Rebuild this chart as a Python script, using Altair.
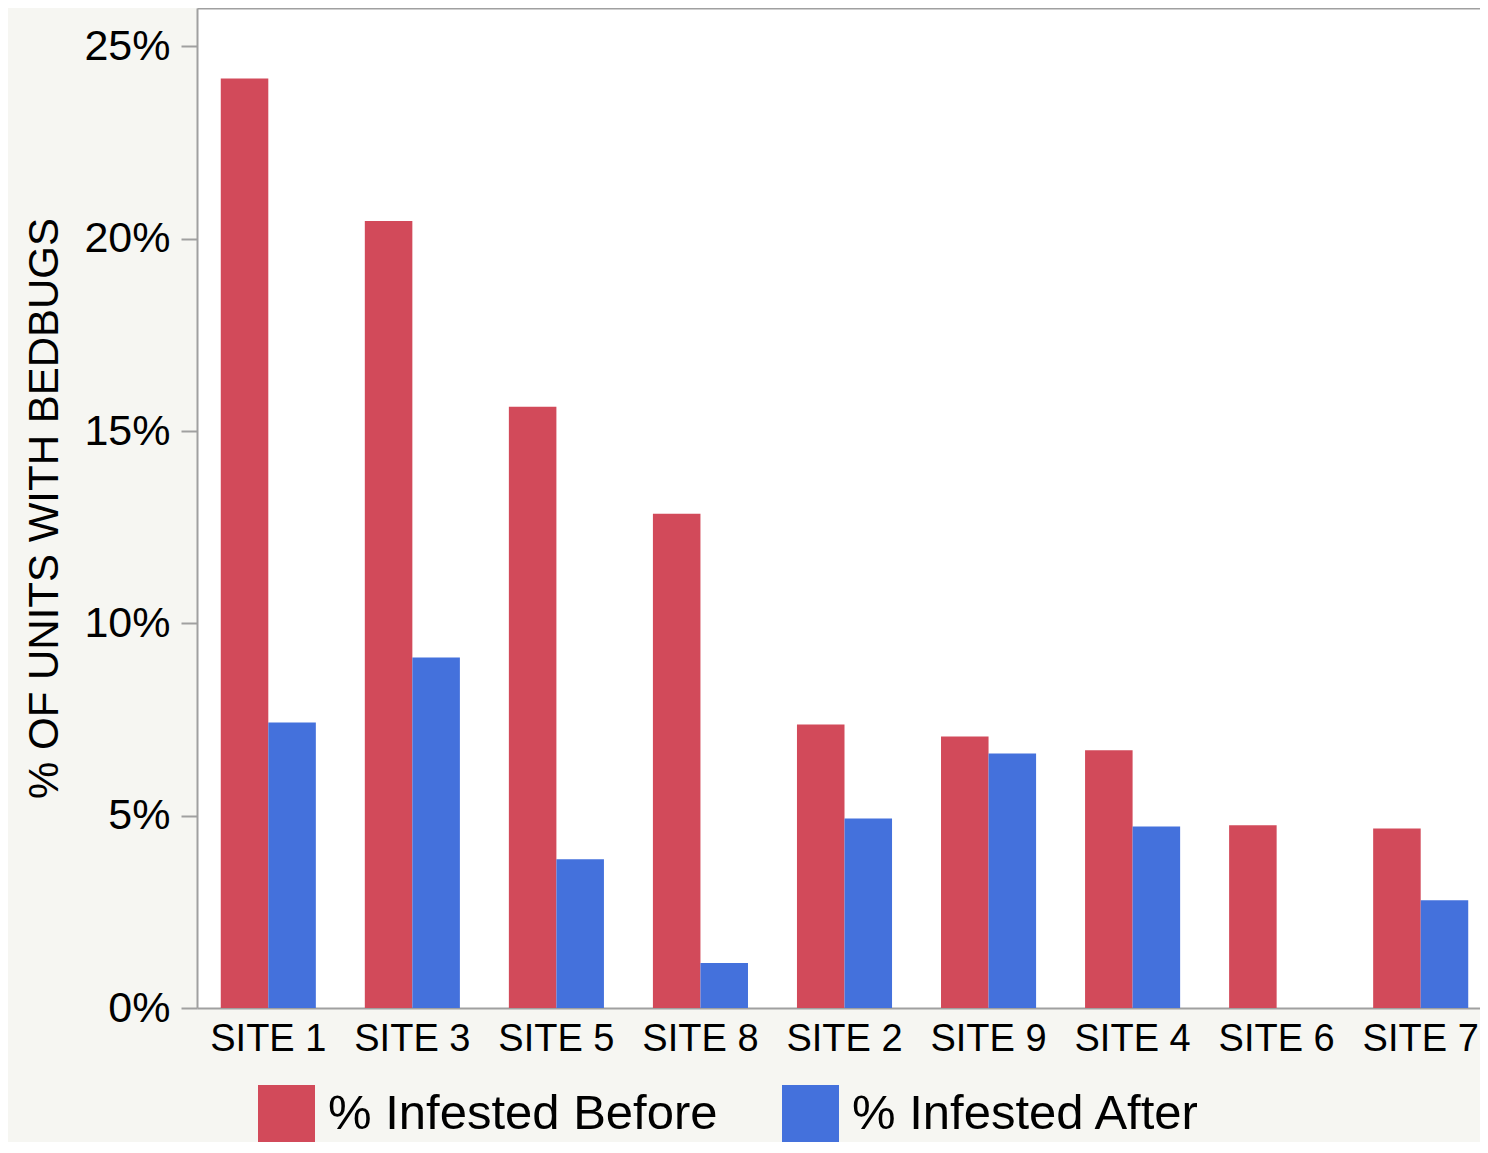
import altair as alt
import pandas as pd

sites = ["SITE 1", "SITE 3", "SITE 5", "SITE 8", "SITE 2", "SITE 9", "SITE 4", "SITE 6", "SITE 7"]
before = [24.17, 20.46, 15.63, 12.85, 7.37, 7.06, 6.70, 4.75, 4.67]
after = [7.42, 9.11, 3.87, 1.17, 4.93, 6.62, 4.72, 0.0, 2.80]
series = ["% Infested Before", "% Infested After"]
colors = ["#d24a5a", "#4471dc"]
y_ticks = [0, 5, 10, 15, 20, 25]

rows = []
for s, b, a in zip(sites, before, after):
    rows.append({"site": s, "series": series[0], "value": b})
    rows.append({"site": s, "series": series[1], "value": a})
df = pd.DataFrame(rows)

FONT = "Liberation Sans"
GRAY = "#a0a0a0"

xscale = alt.Scale(paddingInner=0.34, paddingOuter=0.165, range=[0, 1295])

bars = alt.Chart(df).mark_bar().encode(
    x=alt.X("site:N", sort=sites, scale=xscale,
            axis=alt.Axis(title=None, labelAngle=0, ticks=False, labelFontSize=38,
                          labelPadding=12, labelColor="black", labelFont=FONT,
                          domainColor=GRAY, domainWidth=2)),
    xOffset=alt.XOffset("series:N", sort=series,
                        scale=alt.Scale(paddingInner=0, paddingOuter=0)),
    y=alt.Y("value:Q", scale=alt.Scale(domain=[0, 26], nice=False),
            axis=alt.Axis(title="% OF UNITS WITH BEDBUGS", values=y_ticks,
                          labelExpr="datum.value + '%'", grid=False,
                          labelFontSize=43, labelFont=FONT, labelColor="black",
                          labelPadding=11, tickSize=16, tickColor=GRAY, tickWidth=2,
                          domainColor=GRAY, domainWidth=2,
                          titleFontSize=42, titleFont=FONT, titleFontWeight="normal",
                          titleColor="black", titlePadding=17)),
    color=alt.Color("series:N", sort=series,
                    scale=alt.Scale(domain=series, range=colors),
                    legend=alt.Legend(title=None, orient="none", legendX=61, legendY=1077,
                                      direction="horizontal", symbolType="square",
                                      symbolSize=3249, symbolStrokeWidth=0,
                                      labelFontSize=49, labelFont=FONT, labelColor="black",
                                      labelLimit=600, labelOffset=13, columnPadding=64,
                                      symbolOpacity=1)),
)

top_border = alt.Chart(df).mark_point(opacity=0).encode(
    x=alt.X("site:N", sort=sites, scale=xscale,
            axis=alt.Axis(orient="top", title=None, labels=False, ticks=False,
                          domainColor=GRAY, domainWidth=2)),
)

chart = alt.layer(bars, top_border).resolve_axis(x="independent").properties(
    width=1283, height=1000,
    background="#f6f6f2",
    autosize=alt.AutoSizeParams(type="none"),
    padding={"left": 189, "top": 0, "right": 0, "bottom": 134},
).configure_view(
    fill="white", stroke="transparent",
)

chart.save("out.html", embed_options={"renderer": "svg", "actions": False})
